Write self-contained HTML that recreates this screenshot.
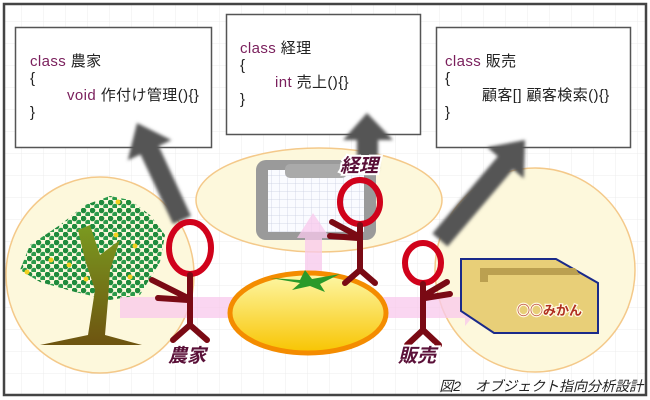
<!DOCTYPE html>
<html><head><meta charset="utf-8"><style>
html,body{margin:0;padding:0;background:#fff;}
svg{display:block;}
.code{font-family:"Liberation Sans","Noto Sans CJK JP",sans-serif;font-size:15px;letter-spacing:0.4px;fill:#222;}
.kw{fill:#7a1f5c;}
.lbl{font-family:"Liberation Sans","Noto Sans CJK JP",sans-serif;font-size:19px;font-weight:bold;font-style:italic;fill:#5a1038;stroke:#fff;stroke-width:4;paint-order:stroke;}
</style></head><body>
<svg width="650" height="400" viewBox="0 0 650 400" xmlns="http://www.w3.org/2000/svg">
<defs>
<pattern id="grid" width="22" height="22" patternUnits="userSpaceOnUse"><path d="M22 0V22H0" fill="none" stroke="#ececec" stroke-width="1"/></pattern>
<pattern id="g2" width="8" height="8" patternUnits="userSpaceOnUse"><rect width="8" height="8" fill="#fafbff"/><path d="M8 0V8H0" fill="none" stroke="#c8cde0" stroke-width="0.7"/></pattern>
<pattern id="dots" width="9" height="8" patternUnits="userSpaceOnUse"><circle cx="2.5" cy="2.5" r="2.8" fill="#1f8a3c"/><circle cx="7" cy="6.5" r="2.8" fill="#2a9a4a"/></pattern>
<linearGradient id="tom" x1="0" y1="0" x2="0" y2="1"><stop offset="0" stop-color="#fdf8a8"/><stop offset="1" stop-color="#f8c400"/></linearGradient>
<linearGradient id="trunk" x1="0" y1="0" x2="0" y2="1"><stop offset="0" stop-color="#7a9a20"/><stop offset="1" stop-color="#6e5410"/></linearGradient>
<filter id="bl"><feGaussianBlur stdDeviation="1.5"/></filter>
</defs>
<rect width="650" height="400" fill="#fff"/>
<rect x="4" y="4" width="642" height="391" fill="url(#grid)"/>
<!-- ellipses -->
<ellipse cx="100" cy="275" rx="94" ry="98" fill="#fdf8dc" stroke="#f4c98a" stroke-width="1.5"/>
<ellipse cx="319" cy="200" rx="123" ry="52" fill="#fdf8dc" stroke="#f4c98a" stroke-width="1.5"/>
<ellipse cx="535" cy="270" rx="100" ry="102" fill="#fdf8dc" stroke="#f4c98a" stroke-width="1.5"/>
<!-- class boxes -->
<rect x="15.5" y="27.5" width="196" height="120" fill="#fff" stroke="#555" stroke-width="1.5"/>
<rect x="226.5" y="14.5" width="194" height="120" fill="#fff" stroke="#555" stroke-width="1.5"/>
<rect x="436.5" y="27.5" width="194" height="120" fill="#fff" stroke="#555" stroke-width="1.5"/>
<text class="code" x="30" y="66"><tspan class="kw">class</tspan> 農家</text>
<text class="code" x="30" y="83">{</text>
<text class="code" x="67" y="100"><tspan class="kw">void</tspan> 作付け管理(){}</text>
<text class="code" x="30" y="117">}</text>
<text class="code" x="240" y="53"><tspan class="kw">class</tspan> 経理</text>
<text class="code" x="240" y="70">{</text>
<text class="code" x="275" y="87"><tspan class="kw">int</tspan> 売上(){}</text>
<text class="code" x="240" y="104">}</text>
<text class="code" x="445" y="66"><tspan class="kw">class</tspan> 販売</text>
<text class="code" x="445" y="83">{</text>
<text class="code" x="482" y="100">顧客[] 顧客検索(){}</text>
<text class="code" x="445" y="117">}</text>
<!-- gray arrows -->
<g fill="#555" filter="url(#bl)">
<polygon points="191,216 158.7,146 171.4,140.1 137,123 127.8,160.3 140.5,154.4 173,224"/>
<polygon points="378,170 378,140 393,140 367,113 343,140 357,140 357,170"/>
<polygon points="447.6,246.5 513.1,169.4 523.8,178.5 525,140 487.2,147.3 497.9,156.4 432.4,233.5"/>
</g>
<!-- clipboard -->
<rect x="256" y="160" width="120" height="80" rx="10" fill="#9a9a9a"/>
<rect x="268" y="170" width="96" height="62" fill="url(#g2)"/>
<rect x="285" y="164" width="62" height="14" rx="5" fill="#aaa"/>
<!-- tree -->
<g>
<polygon points="110,196 130,200 150,215 165,235 160,262 140,295 110,300 75,292 40,282 20,270 30,245 60,225 85,205" fill="url(#dots)"/>
<g fill="#f2d020"><circle cx="118" cy="202" r="2.5"/><circle cx="87" cy="232" r="2.5"/><circle cx="116" cy="235" r="2.5"/><circle cx="51" cy="260" r="2.5"/><circle cx="86" cy="279" r="2.5"/><circle cx="135" cy="246" r="2.5"/><circle cx="130" cy="277" r="2.5"/><circle cx="27" cy="272" r="2.5"/><circle cx="100" cy="260" r="2.5"/><circle cx="69" cy="265" r="2.5"/></g>
<path d="M40,345 L88,335 L95,290 L85,260 L78,230 L90,225 L100,255 L120,240 L110,270 L108,300 L105,335 L142,345 Z" fill="url(#trunk)"/>
</g>
<!-- pink arrows -->
<g opacity="0.75">
<polygon points="305,315 305,238 297,238 313,213 330,238 322,238 322,315" fill="#f8c8ec"/>
<polygon points="120,297 465,297 465,290 480,308 465,326 465,318 120,318" fill="#f8c8ec"/>
</g>
<!-- tomato -->
<ellipse cx="308" cy="313" rx="78" ry="40" fill="url(#tom)" stroke="#f48c00" stroke-width="5"/>
<polygon points="270,278 300,280 305,270 312,279 340,274 320,284 325,292 310,286 292,290 300,283" fill="#2a9a2a"/>
<!-- box -->
<polygon points="461,259 556,259 598,283 598,333 494,333 461,311" fill="#e8cf78" stroke="#1a2a8a" stroke-width="2"/>
<path d="M480,268 H575 L580,275 H488 V282 H480 Z" fill="#bba050"/>
<text x="517" y="315" font-family="'Noto Sans CJK JP',sans-serif" font-size="13" font-weight="bold" fill="#b03020" stroke="#fff8e0" stroke-width="2.5" paint-order="stroke">○○みかん</text>
<!-- figures -->
<g fill="none" stroke-linecap="round">
<ellipse cx="190" cy="248" rx="21" ry="26" stroke="#d0021b" stroke-width="6"/>
<path d="M190,275 V325 M190,325 L173,340 M190,325 L207,340 M188,298 L152,280 M188,300 L158,298" stroke="#7a0a14" stroke-width="6"/>
<ellipse cx="360" cy="202" rx="20" ry="22" stroke="#d0021b" stroke-width="6"/>
<path d="M360,225 V270 M360,270 L345,283 M360,270 L375,283 M358,236 L332,222 M358,238 L330,236" stroke="#7a0a14" stroke-width="6"/>
<ellipse cx="423" cy="263" rx="18" ry="20" stroke="#d0021b" stroke-width="6"/>
<path d="M423,284 V330 M423,330 L407,345 M423,330 L439,345 M425,295 L447,282 M425,298 L450,294" stroke="#7a0a14" stroke-width="6"/>
</g>
<text class="lbl" x="168" y="362">農家</text>
<text class="lbl" x="340" y="172">経理</text>
<text class="lbl" x="398" y="362">販売</text>
<text x="643" y="391" text-anchor="end" font-family="Liberation Sans,'Noto Sans CJK JP',sans-serif" font-size="14" font-style="italic" fill="#222">図2　オブジェクト指向分析設計</text>
<rect x="4" y="4" width="642" height="391" fill="none" stroke="#444" stroke-width="2.5"/>
</svg>
</body></html>
